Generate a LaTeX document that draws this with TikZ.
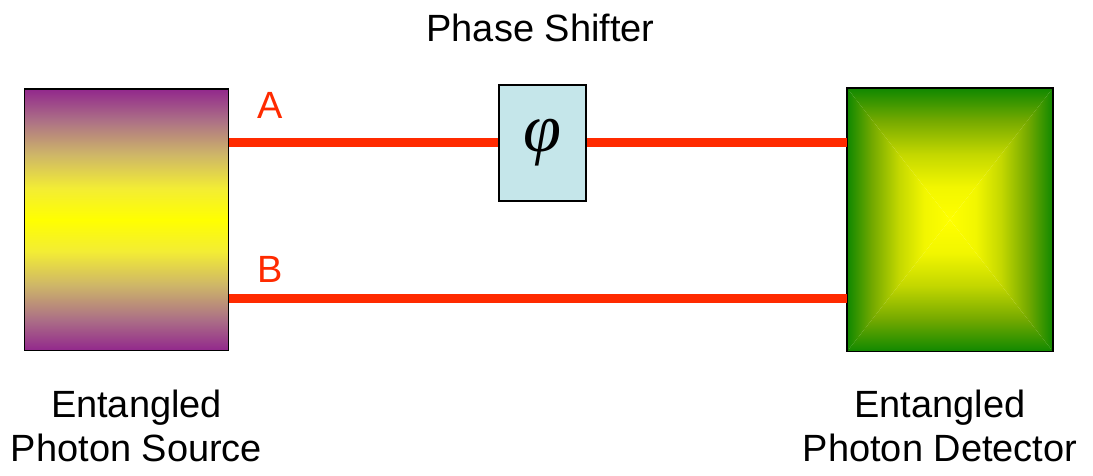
\documentclass[tikz,border=0pt]{standalone}
\usepackage{fontspec}
\setmainfont{Liberation Sans}
\newfontfamily\phifont{Liberation Serif}
\usetikzlibrary{positioning,calc}
\definecolor{beamred}{RGB}{255,42,0}
\definecolor{srcpurple}{RGB}{146,40,140}
\definecolor{srcmauve}{RGB}{172,112,134}
\definecolor{srctan}{RGB}{206,182,104}
\definecolor{srcpale}{RGB}{243,237,52}
\definecolor{detgreen}{RGB}{16,136,0}
\definecolor{detolive}{RGB}{118,170,0}
\definecolor{detlime}{RGB}{195,215,0}
\definecolor{detpale}{RGB}{242,246,0}
\definecolor{shiftblue}{RGB}{197,230,234}
\pgfdeclareverticalshading{sourcegrad}{100bp}{color(0bp)=(srcpurple); color(25bp)=(srcpurple); color(31bp)=(srcmauve); color(37.5bp)=(srctan); color(44bp)=(srcpale); color(50bp)=(yellow); color(56bp)=(srcpale); color(62.5bp)=(srctan); color(69bp)=(srcmauve); color(75bp)=(srcpurple); color(100bp)=(srcpurple)}
\pgfdeclareverticalshading{detectorgrad}{100bp}{color(0bp)=(yellow); color(25bp)=(yellow); color(37.5bp)=(detpale); color(50bp)=(detlime); color(62.5bp)=(detolive); color(75bp)=(detgreen); color(100bp)=(detgreen)}
\tikzset{
  devbox/.style={draw=black, line width=0.5pt, minimum width=2.04cm, minimum height=2.615cm, inner sep=0pt},
  srcbox/.style={devbox, shade, shading=sourcegrad},
  detshade/.style={shade, shading=detectorgrad, shading angle=#1},
  shiftbox/.style={draw=black, fill=shiftblue, line width=0.5pt, minimum width=0.87cm, minimum height=1.16cm, inner sep=0pt, font=\phifont\itshape\fontsize{19.5}{19.5}\selectfont},
  beam/.style={draw=beamred, line width=2.55pt},
  beamlabel/.style={text=beamred, font=\fontsize{10.8}{12.5}\selectfont, inner sep=0pt},
  caption/.style={align=center, font=\fontsize{10.8}{12.5}\selectfont, inner sep=0pt}
}

\begin{document}
\begin{tikzpicture}
\useasboundingbox (0,0) rectangle (10.93,4.75);
\node[srcbox] (source) at (1.265,2.5525) {};
\node[devbox] (detector) at (9.50,2.5525) {};
% pyramid shading of the detector
\path[detshade=0] (detector.north west) -- (detector.north east) -- (detector.center) -- cycle;
\path[detshade=180] (detector.south west) -- (detector.south east) -- (detector.center) -- cycle;
\path[detshade=90] (detector.north west) -- (detector.south west) -- (detector.center) -- cycle;
\path[detshade=-90] (detector.north east) -- (detector.south east) -- (detector.center) -- cycle;
\draw[line width=0.5pt] (detector.north west) rectangle (detector.south east);
\node[shiftbox] (phase) at (5.428,3.323) {φ};
\coordinate (bsrc) at ($(source.south east)+(0,0.53)$);
\coordinate (bdet) at ($(detector.south west)+(0,0.53)$);
\draw[beam] (source.east |- phase.center) -- (phase.west);
\draw[beam] (phase.east) -- (detector.west |- phase.center);
\draw[beam] (bsrc) -- (bdet);
\node[beamlabel, anchor=base] (labelA) at (2.70,3.57) {A};
\node[beamlabel, anchor=base] (labelB) at (2.70,1.93) {B};
\node[caption, anchor=base] (shifttitle) at (5.405,4.34) {Phase Shifter};
\node[caption, anchor=base] (srccaption) at (1.365,0.133) {Entangled\\Photon Source};
\node[caption, anchor=base] (detcaption) at (9.40,0.133) {Entangled\\Photon Detector};
\end{tikzpicture}
\end{document}
